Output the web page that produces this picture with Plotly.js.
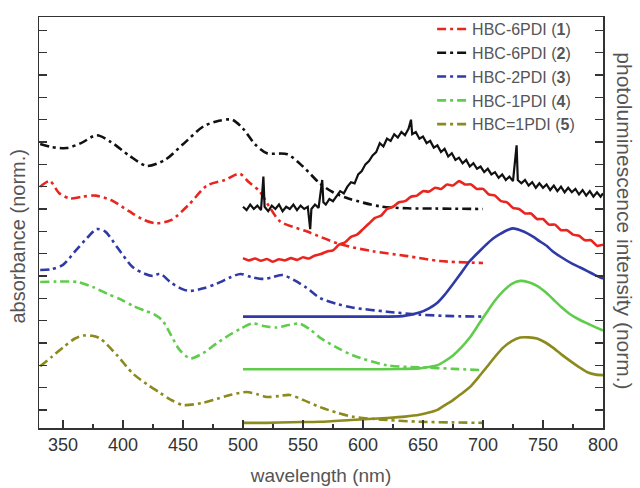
<!DOCTYPE html>
<html>
<head>
<meta charset="utf-8">
<script src="https://cdn.plot.ly/plotly-3.0.1.min.js"></script>
<style>html,body{margin:0;padding:0;background:#fff;}#chart{width:640px;height:488px;}</style>
</head>
<body>
<div id="chart"></div>
<script>
// Legend names
const names = ['HBC-6PDI (<b>1</b>)', 'HBC-6PDI (<b>2</b>)', 'HBC-2PDI (<b>3</b>)', 'HBC-1PDI (<b>4</b>)', 'HBC=1PDI (<b>5</b>)'];
const colors = ['#e8261f', '#111111', '#2f3aa6', '#5fcc4c', '#8c8a1c'];

// Absorbance (dash-dot), offset stacked, y in tick units
const abs1X = [331,339,347,356,366,377,390,405,418,428,440,455,470,485,497,505,514,522,531,553,581,608,637,664,700];
const abs1Y = [10.0,10.25,9.7,9.47,9.55,9.6,9.4,8.9,8.5,8.36,8.5,9.2,10.05,10.3,10.58,10.2,9.78,9.1,8.44,8.0,7.42,7.11,6.89,6.67,6.58];

const abs2X = [331,340,353,365,378,390,405,420,435,450,467,480,491,500,510,520,537,550,564,575,589,614,637,660,700];
const abs2Y = [11.91,11.78,11.73,11.95,12.3,12.0,11.4,10.93,11.2,11.9,12.7,12.95,13.0,12.6,11.9,11.5,11.45,10.9,10.15,9.75,9.45,9.12,9.03,9.02,9.0];

const abs3X = [331,340,350,360,370,378,385,395,408,418,425,431,440,450,456,467,478,490,498,507,517,525,533,543,553,564,578,592,620,647,675,700];
const abs3Y = [6.27,6.3,6.5,7.1,7.7,8.1,8.0,7.3,6.4,6.1,6.0,6.1,5.7,5.4,5.33,5.45,5.65,5.95,6.09,5.95,5.87,5.95,6.04,5.8,5.47,5.02,4.75,4.58,4.4,4.27,4.2,4.18];

const abs4X = [331,345,362,375,387,398,408,418,426,433,440,447,456,467,478,490,498,508,518,528,538,547,556,564,578,592,620,647,675,700];
const abs4Y = [5.73,5.75,5.73,5.5,5.2,4.95,4.67,4.45,4.28,4.0,3.35,2.7,2.31,2.55,2.98,3.4,3.64,3.87,3.75,3.69,3.8,3.87,3.6,3.24,2.8,2.44,2.0,1.91,1.84,1.78];

const abs5X = [331,340,350,360,367,374,381,395,408,420,431,440,450,465,478,490,503,512,520,530,539,550,564,578,592,620,647,675,700];
const abs5Y = [1.96,2.35,2.8,3.2,3.33,3.32,3.2,2.45,1.64,1.15,0.76,0.45,0.22,0.3,0.49,0.68,0.8,0.7,0.58,0.62,0.67,0.45,0.13,-0.12,-0.31,-0.45,-0.53,-0.56,-0.58];

// Photoluminescence (solid)
const pl1X = [500,505,510,515,520,525,530,535,540,545,550,555,560,565,570,575,580,585,590,595,600,605,610,615,620,625,630,635,640,645,650,655,660,665,670,675,680,685,690,695,700,705,710,715,720,725,730,735,740,745,750,755,760,765,770,775,780,785,790,795,800];
const pl1Y = [6.8,6.7,6.78,6.68,6.76,6.64,6.75,6.7,6.8,6.72,6.84,6.78,6.92,6.98,7.1,7.15,7.4,7.5,7.75,7.85,8.1,8.35,8.6,8.7,9.0,9.1,9.3,9.35,9.55,9.6,9.8,9.78,9.95,9.9,10.1,10.05,10.25,10.1,10.1,9.9,9.9,9.65,9.6,9.35,9.3,9.05,9.0,8.8,8.8,8.55,8.55,8.3,8.3,8.05,8.05,7.85,7.8,7.6,7.6,7.35,7.4];

const pl2X = [500,503,506,509,512,515,517,518,521,524,527,530,533,536,539,542,545,548,551,554,556,557,560,563,566,567,569,572,575,578,581,584,587,590,593,596,599,602,605,608,611,614,617,620,623,626,629,632,635,638,640,641,644,647,650,653,656,659,662,665,668,671,674,677,680,683,686,689,692,695,698,701,704,707,710,713,716,719,722,725,728,729,732,735,738,741,744,747,750,753,756,759,762,765,768,771,774,777,780,783,786,789,792,795,798,800];
const pl2Y = [9.1,8.95,9.2,9.0,9.15,8.95,10.45,9.1,8.9,9.15,9.0,9.2,8.9,9.1,9.0,9.2,8.95,9.15,9.0,9.1,8.1,9.0,9.2,9.05,10.3,9.3,9.2,9.45,9.35,9.6,9.8,9.7,10.0,10.2,10.15,10.55,10.7,11.0,11.15,11.4,11.55,11.95,11.8,12.15,12.05,12.35,12.2,12.45,12.3,12.6,13.0,12.35,12.45,12.15,12.25,11.95,12.05,11.75,11.85,11.55,11.7,11.35,11.5,11.2,11.3,11.05,11.2,10.9,11.05,10.8,10.9,10.65,10.8,10.55,10.65,10.4,10.55,10.3,10.45,10.25,11.85,10.3,10.15,10.3,10.05,10.2,9.95,10.15,9.95,10.1,9.85,10.05,9.8,10.0,9.75,9.95,9.75,9.9,9.65,9.85,9.6,9.8,9.55,9.75,9.55,9.7];

const pl3X = [500,540,580,610,633,647,655,662,668,675,682,689,696,703,709,714,720,725,731,737,742,747,753,758,765,775,781,787,793,800];
const pl3Y = [4.18,4.18,4.18,4.18,4.2,4.36,4.55,4.8,5.15,5.64,6.15,6.67,7.05,7.42,7.7,7.87,8.05,8.13,8.05,7.91,7.75,7.56,7.35,7.11,6.85,6.53,6.38,6.22,6.05,5.88];

const pl4X = [500,550,600,630,647,655,662,668,675,682,689,696,703,710,717,724,731,738,745,752,758,765,772,780,787,794,800];
const pl4Y = [1.82,1.82,1.82,1.83,1.86,1.92,2.0,2.18,2.44,2.8,3.24,3.8,4.36,4.9,5.33,5.65,5.78,5.72,5.56,5.28,4.98,4.62,4.31,4.05,3.87,3.7,3.56];

const pl5X = [500,520,540,564,590,620,635,647,655,662,668,675,682,689,696,703,710,717,724,731,738,745,752,758,765,772,780,787,794,800];
const pl5Y = [-0.58,-0.58,-0.55,-0.53,-0.45,-0.36,-0.3,-0.22,-0.12,0.0,0.2,0.44,0.72,1.02,1.45,1.91,2.38,2.8,3.08,3.24,3.25,3.2,3.02,2.8,2.5,2.22,1.92,1.69,1.58,1.56];

const xTickVals = [350,400,450,500,550,600,650,700,750,800];
const xMinorVals = [375,425,475,525,575,625,675,725,775];
const yTickVals = [0,1,2,3,4,5,6,7,8,9,10,11,12,13,14,15,16,17];

const absX = [abs1X, abs2X, abs3X, abs4X, abs5X];
const absY = [abs1Y, abs2Y, abs3Y, abs4Y, abs5Y];
const plX = [pl1X, pl2X, pl3X, pl4X, pl5X];
const plY = [pl1Y, pl2Y, pl3Y, pl4Y, pl5Y];

const traces = [];
for (let i = 0; i < 5; i++) {
  traces.push({
    x: absX[i], y: absY[i], type: 'scatter', mode: 'lines', name: names[i],
    line: {color: colors[i], width: 2.6, dash: '9px,4px,3px,4px', shape: 'spline', smoothing: 0.8},
    showlegend: true, hoverinfo: 'skip'
  });
}
for (let i = 0; i < 5; i++) {
  traces.push({
    x: plX[i], y: plY[i], type: 'scatter', mode: 'lines',
    line: {color: colors[i], width: (i === 1 ? 2.2 : 2.6), shape: (i === 1 ? 'linear' : 'spline'), smoothing: 0.6},
    showlegend: false, hoverinfo: 'skip'
  });
}

const layout = {
  width: 640, height: 488,
  margin: {l: 39, r: 37, t: 14, b: 60},
  paper_bgcolor: '#ffffff', plot_bgcolor: '#ffffff',
  font: {family: 'Liberation Sans, Arial, sans-serif', color: '#444'},
  showlegend: true,
  legend: {
    x: 0.697, y: 1.012, xanchor: 'left', yanchor: 'top',
    bgcolor: 'rgba(0,0,0,0)', borderwidth: 0,
    font: {size: 16, color: '#555'}, tracegroupgap: 0, traceorder: 'normal'
  },
  xaxis: {
    range: [330, 800], tickvals: xTickVals, ticks: 'inside', ticklen: 8, tickwidth: 1.5, tickcolor: '#333',
    showline: true, linecolor: '#333', linewidth: 1.5, mirror: true, showgrid: false, zeroline: false,
    tickfont: {size: 18, color: '#333', family: 'Liberation Sans, Arial, sans-serif'},
    minor: {tickvals: xMinorVals, ticks: 'inside', ticklen: 4, tickwidth: 1.5, tickcolor: '#333'},
    title: {text: 'wavelength (nm)', font: {size: 19, color: '#555'}, standoff: 14}
  },
  yaxis: {
    range: [-0.81, 17.6], tickvals: yTickVals, showticklabels: false, ticks: 'inside', ticklen: 8, tickwidth: 1.5, tickcolor: '#333',
    showline: true, linecolor: '#333', linewidth: 1.5, mirror: 'ticks', showgrid: false, zeroline: false
  },
  annotations: [
    {text: 'absorbance (norm.)', xref: 'paper', yref: 'paper', x: -0.037, y: 0.466, xanchor: 'center', yanchor: 'middle',
     textangle: -90, showarrow: false, font: {size: 20, color: '#555'}},
    {text: 'photoluminescence intensity (norm.)', xref: 'paper', yref: 'paper', x: 1.039, y: 0.503, xanchor: 'center', yanchor: 'middle',
     textangle: 90, showarrow: false, font: {size: 21, color: '#555'}}
  ]
};

Plotly.newPlot('chart', traces, layout, {displayModeBar: false, staticPlot: true});
</script>
</body>
</html>
